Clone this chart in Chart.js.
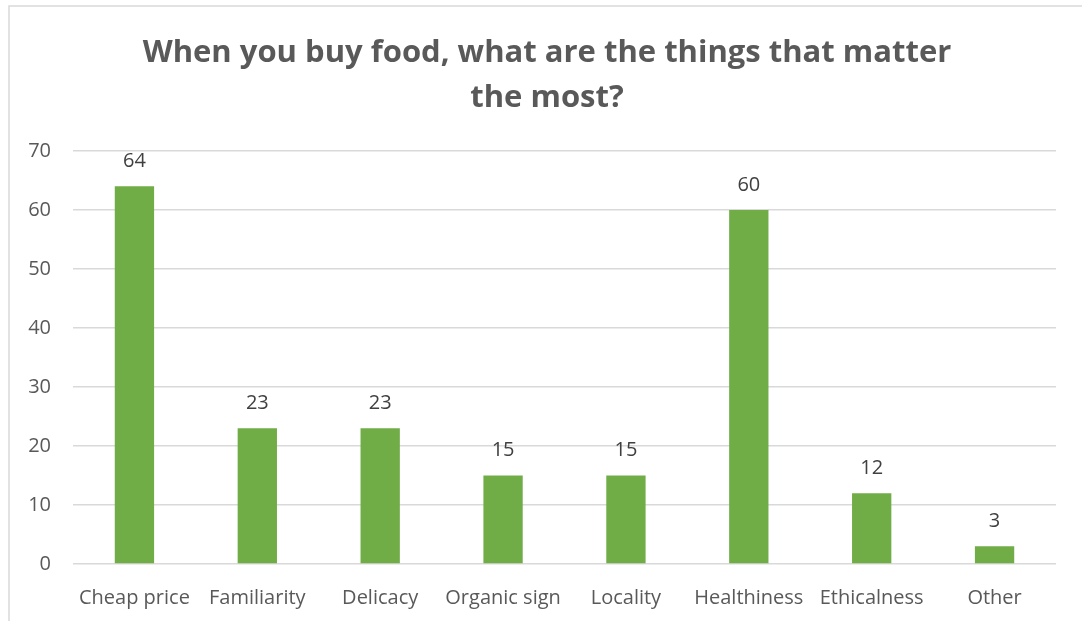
<!DOCTYPE html>
<html>
<head>
<meta charset="utf-8">
<script src="https://cdn.jsdelivr.net/npm/chart.js@4"></script>
<style>
  html, body { margin: 0; padding: 0; background: #fff; }
  #box { position: relative; width: 1082px; height: 621px; }
</style>
</head>
<body>
<div id="box"><canvas id="foodChart"></canvas></div>
<script>
// Umfragewerte
const kategorien = ['Cheap price', 'Familiarity', 'Delicacy', 'Organic sign', 'Locality', 'Healthiness', 'Ethicalness', 'Other'];
const anzahl = [64, 23, 23, 15, 15, 60, 12, 3];
const titelZeilen = ['When you buy food, what are the things that matter', 'the most?'];

// Rahmen um das ganze Diagramm (oben und links sichtbar)
const rahmenPlugin = {
    id: 'rahmen',
    beforeDraw(chart) {
        const ctx = chart.ctx;
        ctx.save();
        ctx.strokeStyle = '#d9d9d9';
        ctx.lineWidth = 1.5;
        ctx.beginPath();
        ctx.moveTo(9, chart.height);
        ctx.lineTo(9, 6);
        ctx.lineTo(chart.width, 6);
        ctx.stroke();
        ctx.restore();
    }
};

// y-Beschriftung selbst zeichnen, damit die schmale Achse sie nicht abschneidet
const yLabelPlugin = {
    id: 'yLabels',
    afterDraw(chart) {
        const ctx = chart.ctx;
        const y = chart.scales.y;
        ctx.save();
        ctx.font = '20px "Open Sans"';
        ctx.fillStyle = '#595959';
        ctx.textAlign = 'right';
        ctx.textBaseline = 'middle';
        y.ticks.forEach(t => {
            ctx.fillText(String(t.value), chart.chartArea.left - 22, y.getPixelForValue(t.value));
        });
        ctx.restore();
    }
};

// Werte über die Balken schreiben
const wertePlugin = {
    id: 'werte',
    afterDatasetsDraw(chart) {
        const ctx = chart.ctx;
        const meta = chart.getDatasetMeta(0);
        ctx.save();
        ctx.font = '20px "Open Sans"';
        ctx.fillStyle = '#404040';
        ctx.textAlign = 'center';
        ctx.textBaseline = 'middle';
        meta.data.forEach((bar, i) => {
            ctx.fillText(String(anzahl[i]), bar.x, bar.y - 25);
        });
        ctx.restore();
    }
};

const dataFood = {
    labels: kategorien,
    datasets: [{
        data: anzahl,
        backgroundColor: '#70ad47',
        borderWidth: 0,
        categoryPercentage: 1.0,
        barPercentage: 0.32
    }]
};

const configFood = {
    type: 'bar',
    data: dataFood,
    options: {
        responsive: false,
        animation: false,
        layout: { padding: { left: 38, right: 26, top: 0, bottom: 0 } },
        plugins: {
            legend: { display: false },
            tooltip: { enabled: false },
            title: {
                display: true,
                text: titelZeilen,
                color: '#595959',
                font: { family: '"Open Sans"', size: 31, weight: 'bold', lineHeight: 1.45 },
                padding: { top: 31, bottom: 30 }
            }
        },
        scales: {
            x: {
                grid: { display: false },
                border: { display: false },
                ticks: { color: '#595959', font: { family: '"Open Sans"', size: 20 }, padding: 14, maxRotation: 0, autoSkip: false },
                afterFit(scale) { scale.height = 57; }
            },
            y: {
                min: 0, max: 70,
                grid: { color: '#d9d9d9', lineWidth: 1.5, drawTicks: false },
                border: { display: false },
                ticks: { stepSize: 10, display: false },
                afterFit(scale) { scale.width = 35; }
            }
        }
    },
    plugins: [rahmenPlugin, yLabelPlugin, wertePlugin]
};

const canvas = document.getElementById('foodChart');
canvas.width = 1082;
canvas.height = 621;
const foodChart = new Chart(canvas, configFood);
</script>
</body>
</html>
